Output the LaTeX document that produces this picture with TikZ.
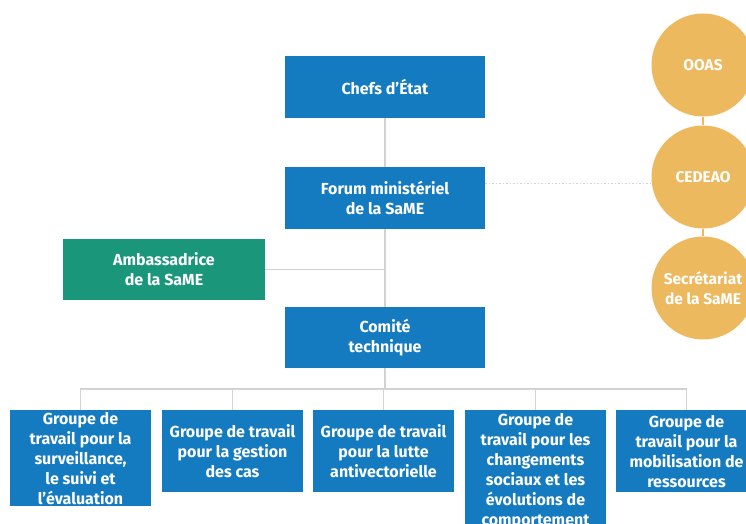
\documentclass[tikz,border=0pt]{standalone}
\usepackage{fontspec}
\setmainfont{Fira Sans}[UprightFont=* Bold, BoldFont=* Bold]
\definecolor{boxblue}{HTML}{157BC0}
\definecolor{boxgreen}{HTML}{1A977B}
\definecolor{circorange}{HTML}{EDB95E}
\definecolor{linegray}{HTML}{D2D2D2}
\begin{document}
\begin{tikzpicture}[x=1pt,y=-1pt,
  box/.style={rectangle, fill=boxblue, text=white, align=center, inner sep=0pt,
    font=\fontsize{16}{20}\selectfont, minimum width=200pt, minimum height=62pt},
  grp/.style={box, minimum width=141pt, minimum height=82pt},
  org/.style={circle, fill=circorange, text=white, align=center, inner sep=0pt,
    font=\fontsize{15.5}{20}\selectfont, minimum size=103pt},
  link/.style={draw=linegray, line width=1.5pt},
  olink/.style={draw=circorange, line width=2pt}]
\useasboundingbox (0,0) rectangle (746,524);
\clip (0,0) rectangle (746,524);
% right column
\node[org] (ooas) at (703,65) {OOAS};
\node[org] (cedeao) at (703,177) {CEDEAO};
\node[org] (secr) at (703,288) {Secrétariat\\de la SaME};
\draw[olink] (ooas) -- (cedeao);
\draw[olink] (cedeao) -- (secr);
% main chain
\node[box] (chefs) at (385,87) {Chefs d’État};
\node[box] (forum) at (385,198) {Forum ministériel\\de la SaME};
\node[box, fill=boxgreen, minimum width=202pt, minimum height=61pt] (amb) at (164,269.5) {Ambassadrice\\de la SaME};
\node[box, minimum height=61pt] (comite) at (385,337.5) {Comité\\technique};
\draw[link] (chefs) -- (forum);
\draw[link] (forum) -- (comite);
\draw[link] (amb.east) -- (amb.east -| forum.south);
\draw[link, dotted, line width=1pt] (forum.east |- 0,183) -- (cedeao.west |- 0,183);
% groups
\node[grp, anchor=north, minimum height=96pt] (g1) at (80.5,410) {Groupe de\\travail pour la\\surveillance,\\le suivi et\\l’évaluation};
\node[grp, anchor=north] (g2) at (232.5,410) {Groupe de travail\\pour la gestion\\des cas};
\node[grp, anchor=north] (g3) at (383.5,410) {Groupe de travail\\pour la lutte\\antivectorielle};
\node[grp, anchor=north, minimum height=122pt] (g4) at (535.5,410) {Groupe de\\travail pour les\\changements\\sociaux et les\\évolutions de\\comportement};
\node[grp, anchor=north] (g5) at (686.5,410) {Groupe de\\travail pour la\\mobilisation de\\ressources};
\coordinate (bus) at (385,389);
\draw[link] (comite.south) -- (bus);
\draw[link] (g1.north) |- (bus) -| (g5.north);
\draw[link] (g2.north) -- (g2.north |- bus);
\draw[link] (g3.north) -- (g3.north |- bus);
\draw[link] (g4.north) -- (g4.north |- bus);
\end{tikzpicture}
\end{document}
